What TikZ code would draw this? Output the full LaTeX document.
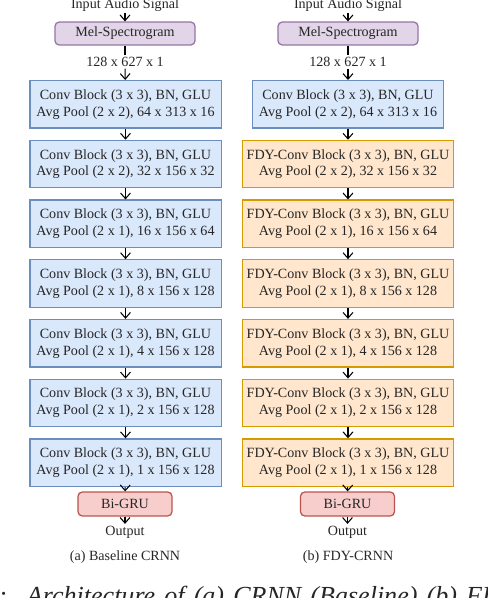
\documentclass[tikz,border=0pt]{standalone}
\usepackage{fontspec}
\setmainfont{Liberation Serif}
\usetikzlibrary{arrows.meta,positioning}
\definecolor{convfill}{HTML}{DAE8FC}
\definecolor{convline}{HTML}{6C8EBF}
\definecolor{fdyfill}{HTML}{FFE6CC}
\definecolor{fdyline}{HTML}{D79B00}
\definecolor{melfill}{HTML}{E1D5E7}
\definecolor{melline}{HTML}{9673A6}
\definecolor{grufill}{HTML}{F8CECC}
\definecolor{gruline}{HTML}{B85450}

\begin{document}
\begin{tikzpicture}[->,>={Straight Barb[length=4pt,width=7pt]},x=0.71pt,y=-0.71pt,
    node distance=7.8pt,line width=0.75pt,font=\fontsize{10}{12}\selectfont]
        \tikzstyle{every node}=[text=black!85]
        \tikzstyle{label}=[inner sep=1pt]
        \tikzstyle{block}=[draw, line width=0.9pt, align=center, inner sep=2pt, minimum height=33.7pt]
        \tikzstyle{conv}=[block, fill=convfill, draw=convline, minimum width=135.8pt]
        \tikzstyle{fdy}=[block, fill=fdyfill, draw=fdyline, minimum width=149.8pt]
        \tikzstyle{mel}=[block, rounded corners=3pt, fill=melfill, draw=melline, minimum width=99.4pt, minimum height=16.3pt]
        \tikzstyle{gru}=[block, rounded corners=3pt, fill=grufill, draw=gruline, minimum width=66.7pt, minimum height=17pt]

        \clip (0,0) rectangle (488,598);

        % baseline CRNN
        \node[label,anchor=base] (inA)   at (125,8.5)   {Input Audio Signal};
        \node[mel]               (melA)  at (125,33.5)  {Mel-Spectrogram};
        \node[label]             (dimA)  at (125,62)    {128 x 627 x 1};
        \node[conv,anchor=north] (a1)    at (125.5,80)  {Conv Block (3 x 3), BN, GLU\\Avg Pool (2 x 2), 64 x 313 x 16};
        \node[conv]              (a2)    [below=of a1]  {Conv Block (3 x 3), BN, GLU\\Avg Pool (2 x 2), 32 x 156 x 32};
        \node[conv]              (a3)    [below=of a2]  {Conv Block (3 x 3), BN, GLU\\Avg Pool (2 x 1), 16 x 156 x 64};
        \node[conv]              (a4)    [below=of a3]  {Conv Block (3 x 3), BN, GLU\\Avg Pool (2 x 1), 8 x 156 x 128};
        \node[conv]              (a5)    [below=of a4]  {Conv Block (3 x 3), BN, GLU\\Avg Pool (2 x 1), 4 x 156 x 128};
        \node[conv]              (a6)    [below=of a5]  {Conv Block (3 x 3), BN, GLU\\Avg Pool (2 x 1), 2 x 156 x 128};
        \node[conv]              (a7)    [below=of a6]  {Conv Block (3 x 3), BN, GLU\\Avg Pool (2 x 1), 1 x 156 x 128};
        \node[gru]               (gruA)  at (125,504)   {Bi-GRU};
        \node[label]             (outA)  at (125,532)   {Output};
        \node[label]             (capA)  at (125,557)   {(a) Baseline CRNN};

        % FDY-CRNN
        \node[label,anchor=base] (inB)   at (348,8.5)   {Input Audio Signal};
        \node[mel]               (melB)  at (348,33.5)  {Mel-Spectrogram};
        \node[label]             (dimB)  at (348,62)    {128 x 627 x 1};
        \node[conv,anchor=north] (b1)    at (348,80)    {Conv Block (3 x 3), BN, GLU\\Avg Pool (2 x 2), 64 x 313 x 16};
        \node[fdy]               (b2)    [below=of b1]  {FDY-Conv Block (3 x 3), BN, GLU\\Avg Pool (2 x 2), 32 x 156 x 32};
        \node[fdy]               (b3)    [below=of b2]  {FDY-Conv Block (3 x 3), BN, GLU\\Avg Pool (2 x 1), 16 x 156 x 64};
        \node[fdy]               (b4)    [below=of b3]  {FDY-Conv Block (3 x 3), BN, GLU\\Avg Pool (2 x 1), 8 x 156 x 128};
        \node[fdy]               (b5)    [below=of b4]  {FDY-Conv Block (3 x 3), BN, GLU\\Avg Pool (2 x 1), 4 x 156 x 128};
        \node[fdy]               (b6)    [below=of b5]  {FDY-Conv Block (3 x 3), BN, GLU\\Avg Pool (2 x 1), 2 x 156 x 128};
        \node[fdy]               (b7)    [below=of b6]  {FDY-Conv Block (3 x 3), BN, GLU\\Avg Pool (2 x 1), 1 x 156 x 128};
        \node[gru]               (gruB)  at (347.5,504) {Bi-GRU};
        \node[label]             (outB)  at (347.5,532) {Output};
        \node[label]             (capB)  at (348,557)   {(b) FDY-CRNN};

        % figure caption, cut by the page edge
        \node[label,anchor=base west,font=\fontsize{18.5}{20}\selectfont\itshape] (fig) at (25,604)
            {\spaceskip=0.35em\llap{Fig. 1:\hspace{14pt}}Architecture of (a) CRNN (Baseline) (b) FDY-CRNN};

        \foreach \c in {A,B} {
            \draw (in\c) -- (mel\c);
            \draw[-] (mel\c) -- (dim\c);
            \draw (out\c |- gru\c.south) -- (out\c);
        }
        \draw (dimA) -- (a1);
        \draw (dimB) -- (b1);
        \foreach \i [count=\j from 2] in {1,...,6} {
            \draw (a\i) -- (a\j);
            \draw (b\i) -- (b\j);
        }
        \draw (a7) -- (gruA);
        \draw (b7) -- (gruB);
\end{tikzpicture}
\end{document}
